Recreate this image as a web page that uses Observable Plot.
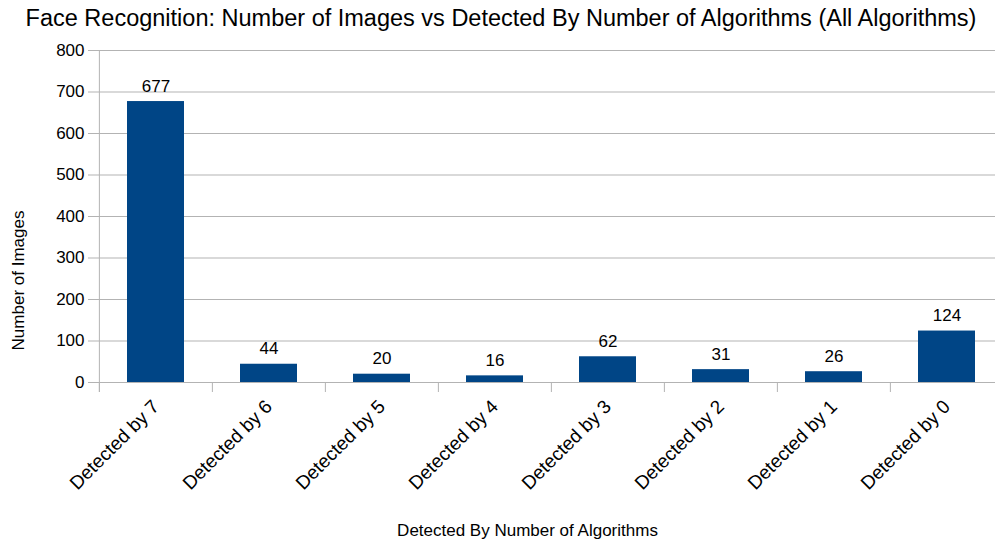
<!DOCTYPE html>
<html>
<head>
<meta charset="utf-8">
<script src="https://cdn.jsdelivr.net/npm/d3@7"></script>
<script src="https://cdn.jsdelivr.net/npm/@observablehq/plot@0.6"></script>
<style>
  html, body { margin: 0; padding: 0; background: #fff; overflow: hidden; }
  #chart { width: 995px; }
  .title {
    font-family: "Liberation Sans", Arial, sans-serif;
    font-size: 23.5px;
    line-height: 36px;
    height: 36px;
    text-align: center;
    padding-left: 7px;
    box-sizing: border-box;
    width: 995px;
    color: #000;
    white-space: nowrap;
  }
</style>
</head>
<body>
<div id="chart"></div>
<script>
// Images grouped by how many of the seven face detection algorithms found a face
const categories = [
  "Detected by 7", "Detected by 6", "Detected by 5", "Detected by 4",
  "Detected by 3", "Detected by 2", "Detected by 1", "Detected by 0"
];
const imageCounts = [677, 44, 20, 16, 62, 31, 26, 124];
const yTicks = [0, 100, 200, 300, 400, 500, 600, 700, 800];

const titleText = "Face Recognition: Number of Images vs Detected By Number of Algorithms (All Algorithms)";
const xTitle = "Detected By Number of Algorithms";
const yTitle = "Number of Images";

const data = categories.map((category, i) => ({category, count: imageCounts[i]}));

// Plot area runs a little past the right edge of the page
const plotLeft = 98, plotRight = 1004;
const step = (plotRight - plotLeft) / categories.length;
const grid = "#b3b3b3";

const chart = Plot.plot({
  width: 995,
  height: 510,
  marginTop: 14,
  marginBottom: 164,
  marginLeft: plotLeft,
  marginRight: 0,
  x: {domain: categories, range: [plotLeft, plotRight], paddingInner: 0.5, paddingOuter: 0.25, label: null},
  y: {domain: [0, 800], label: null},
  style: {fontFamily: "Liberation Sans, Arial, sans-serif", fontSize: "17px", color: "#000", background: "#fff", overflow: "hidden"},
  marks: [
    Plot.gridY(yTicks, {stroke: grid, strokeOpacity: 1, insetLeft: -10}),
    // category boundary ticks below the baseline
    Plot.ruleX(categories, {x: d => d, y1: 0, y2: 0, dx: -step / 2, insetBottom: -10, stroke: grid}),
    // vertical axis line
    Plot.ruleX([categories[0]], {x: d => d, dx: -step / 2, insetBottom: -10, stroke: grid}),
    Plot.barY(data, {x: "category", y: "count", fill: "#004586"}),
    Plot.text(data, {x: "category", y: "count", text: d => String(d.count), lineAnchor: "bottom", dy: -10, fontSize: 17, fill: "#000"}),
    Plot.axisY({ticks: yTicks, tickSize: 0, tickPadding: 14, fontSize: 17, label: null}),
    Plot.axisX({tickSize: 0, tickRotate: -45, tickPadding: 21, fontSize: 19, label: null}),
    Plot.text([xTitle], {frameAnchor: "bottom", textAnchor: "middle", lineAnchor: "middle", dx: -19.5, dy: 148, fontSize: 17, fill: "#000"}),
    Plot.text([yTitle], {frameAnchor: "left", textAnchor: "middle", lineAnchor: "middle", rotate: -90, dx: -80, dy: 64, fontSize: 17, fill: "#000"})
  ]
});

const title = document.createElement("div");
title.className = "title";
title.textContent = titleText;
const root = document.getElementById("chart");
root.appendChild(title);
root.appendChild(chart);
</script>
</body>
</html>
